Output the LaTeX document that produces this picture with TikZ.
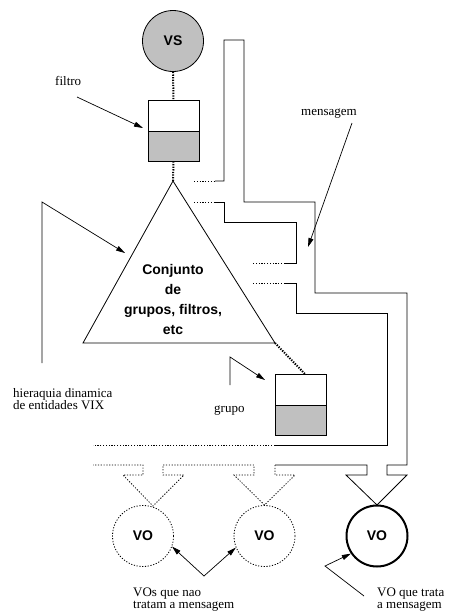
\documentclass[tikz,border=0pt]{standalone}
\usepackage{fontspec}
\setmainfont{Liberation Serif}
\setsansfont{Liberation Sans}
\usetikzlibrary{arrows.meta}
\definecolor{fillgray}{RGB}{192,192,192}
\tikzset{
  wall/.style={line width=0.8pt, line join=miter},
  fade/.style={line width=0.8pt, dash pattern=on 1.2pt off 1.6pt},
  link/.style={line width=2pt, dash pattern=on 1.3pt off 1.3pt},
  pointer/.style={line width=0.7pt, -{Triangle[length=9pt,width=5pt]}},
  caption/.style={font=\fontsize{13}{12}\selectfont, inner sep=0pt, align=left},
  boldsans/.style={font=\fontsize{14}{20}\selectfont\sffamily\bfseries},
  entity/.style={circle, minimum size=61pt, inner sep=0pt, boldsans},
  half/.style={rectangle, draw, line width=0.8pt, minimum width=51pt, inner sep=0pt},
}
\begin{document}
\begin{tikzpicture}[x=1pt, y=-1pt]
\useasboundingbox (0,0) rectangle (449,616);

% source and filter
\node[entity, draw, line width=0.8pt, fill=fillgray] (vs) at (173,41) {VS};
\node[half, minimum height=31pt] (ftop) at (173.5,115.5) {};
\node[half, minimum height=30pt, fill=fillgray] (fbot) at (173.5,146) {};

% hierarchy triangle
\coordinate (apex) at (173,181);
\coordinate (tril) at (83,343);
\coordinate (trir) at (275,343);
\draw[wall] (apex) -- (tril) -- (trir) -- cycle;
\node[boldsans, align=center, inner sep=0pt, anchor=north] (set) at (173,264)
  {Conjunto\\de\\grupos, filtros,\\etc};

% group box
\node[half, minimum height=31pt] (gtop) at (300.5,389.5) {};
\node[half, minimum height=30pt, fill=fillgray] (gbot) at (300.5,420) {};
\coordinate (gin) at (305,374);

% dotted links
\draw[link] (vs.south) -- (ftop.north);
\draw[link] (fbot.south) -- (apex);
\draw[link] (trir) -- (gin);

% message pipe: outer wall
\draw[fade] (194,181) -- (215,181);
\draw[wall] (215,181) -- (224,181) -- (224,40) -- (244,40) -- (244,202)
  -- (315,202) -- (315,293) -- (407,293) -- (407,465) -- (387,465)
  -- (387,475) -- (407,475) -- (377,505) -- (346,475) -- (367,475)
  -- (367,465) -- (275,465);
\draw[fade] (275,465) -- (275,475) -- (295,475) -- (264.5,505) -- (234,475)
  -- (254,475) -- (254,465) -- (163,465) -- (163,475) -- (184,475)
  -- (153,506) -- (123,475) -- (143,475) -- (143,465) -- (93,465);

% message pipe: middle wall
\draw[fade] (194,202) -- (215,202);
\draw[wall] (215,202) -- (224,202) -- (224,222) -- (296,222) -- (296,263) -- (285,263);
\draw[fade] (285,263) -- (253,263);

% message pipe: inner wall
\draw[fade] (253,283) -- (285,283);
\draw[wall] (285,283) -- (296,283) -- (296,313) -- (387,313) -- (387,445) -- (275,445);
\draw[fade] (275,445) -- (93,445);

% objects
\node[entity, draw, fade] (lvo) at (143,536) {VO};
\node[entity, draw, fade] (mvo) at (264.5,536) {VO};
\node[entity, draw, line width=2pt] (rvo) at (377,536) {VO};

% captions
\node[caption, anchor=base west] (lfiltro) at (55,85) {filtro};
\node[caption, anchor=base west] (lmsg) at (301,115) {mensagem};
\node[caption, anchor=base west] (lgrupo) at (214,412) {grupo};
\node[caption, anchor=north west] (lhier) at (13,388) {hieraquia dinamica\\de entidades VIX};
\node[caption, anchor=north west] (lnot) at (133,588) {VOs que nao\\tratam a mensagem};
\node[caption, anchor=north west] (lyes) at (377,587.5) {VO que trata\\a mensagem};

% caption pointers
\coordinate (pf0) at (77,97);
\coordinate (pf1) at (143,128);
\draw[pointer] (pf0) -- (pf1);
\coordinate (pm0) at (352,123);
\coordinate (pm1) at (308,247);
\draw[pointer] (pm0) -- (pm1);
\coordinate (ph0) at (42,363);
\coordinate (ph1) at (42,202);
\coordinate (ph2) at (125,253);
\draw[pointer] (ph0) -- (ph1) -- (ph2);
\coordinate (pg0) at (230,385);
\coordinate (pg1) at (230,357);
\coordinate (pg2) at (265,380);
\draw[pointer] (pg0) -- (pg1) -- (pg2);
\coordinate (pn) at (204,576);
\draw[pointer] (pn) -- (lvo.-20);
\draw[pointer] (pn) -- (mvo.202);
\coordinate (py0) at (364,596);
\coordinate (py1) at (325,566);
\draw[pointer] (py0) -- (py1) -- (rvo.214);
\end{tikzpicture}
\end{document}
